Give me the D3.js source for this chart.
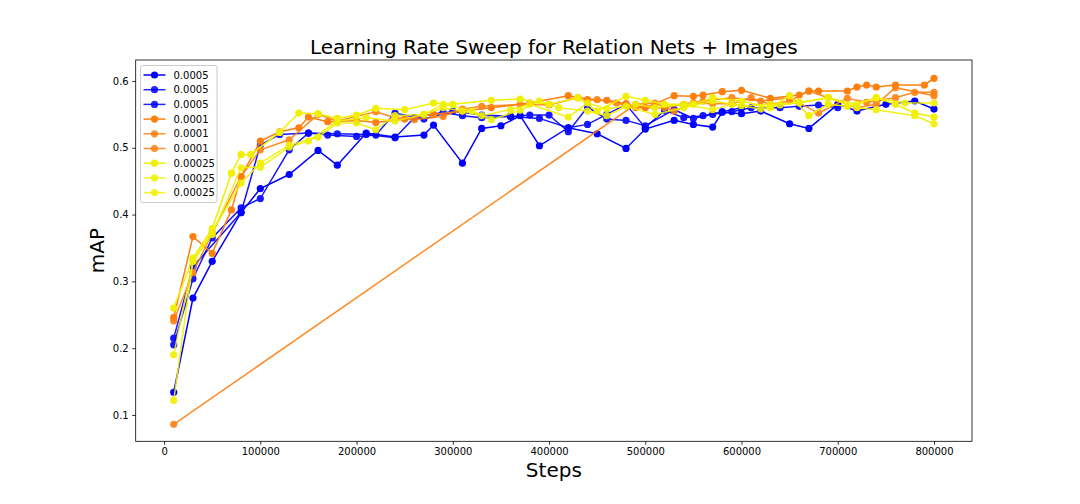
<!DOCTYPE html>
<html>
<head>
<meta charset="utf-8">
<script src="https://d3js.org/d3.v7.min.js"></script>
<style>
body{margin:0;background:#fff;}
svg{font-family:"DejaVu Sans",sans-serif;}
</style>
</head>
<body>
<script>
const width = 1080;
const height = 504;

// learning rates shown in the legend
const labels = ['0.0005','0.0005','0.0005','0.0001','0.0001','0.0001','0.00025','0.00025','0.00025'];
const colors = ['#0000ff','#0000ff','#0000ff','#ff7f0e','#ff7f0e','#ff7f0e','#f0f000','#f0f000','#f0f000'];

const xTicks = [0,100000,200000,300000,400000,500000,600000,700000,800000];
const yTicks = [0.1,0.2,0.3,0.4,0.5,0.6];

// steps in thousands, mAP per run
const stepsB1 = [10,30,50,80,100,130,160,180,210,240,270,280,310,330,350,370,390,420,450,480,500,530,550,570,580,600,620,650,670,700,720,750,780,800];
const mapB1   = [0.134,0.275,0.330,0.403,0.439,0.460,0.496,0.474,0.522,0.516,0.519,0.534,0.477,0.529,0.533,0.548,0.503,0.530,0.521,0.499,0.528,0.541,0.535,0.531,0.553,0.551,0.555,0.536,0.529,0.565,0.555,0.565,0.570,0.558];

const stepsB2 = [10,30,50,80,100,130,150,170,200,220,240,270,300,330,360,380,400,420,440,460,480,500,530,550,570,590,610,640,660,680,700];
const mapB2   = [0.205,0.304,0.365,0.410,0.424,0.497,0.522,0.519,0.517,0.519,0.552,0.543,0.555,0.549,0.547,0.549,0.549,0.524,0.561,0.543,0.541,0.533,0.557,0.544,0.550,0.554,0.560,0.560,0.562,0.564,0.560];

const stepsB3 = [10,30,80,100,120,150,180,210,240,260,290,310,330,360,390,420,440,460,480,500,520,540,560,580,600];
const mapB3   = [0.215,0.322,0.403,0.504,0.520,0.522,0.521,0.520,0.515,0.545,0.553,0.548,0.545,0.547,0.544,0.530,0.535,0.550,0.565,0.530,0.556,0.545,0.548,0.554,0.560];

const stepsO1 = [10,30,50,70,80,100,120,140,150,170,200,220,250,280,310,340,380,420,440,460,480,500,530,550,560,580,600,630,660,670,680,710,720,730,740,760,790,800];
const mapO1   = [0.246,0.367,0.342,0.407,0.457,0.510,0.524,0.530,0.546,0.539,0.541,0.538,0.543,0.550,0.555,0.560,0.567,0.578,0.572,0.571,0.566,0.560,0.578,0.577,0.579,0.584,0.586,0.574,0.579,0.585,0.585,0.585,0.591,0.594,0.591,0.594,0.594,0.604];

const stepsO2 = [10,30,50,80,100,130,160,180,220,240,260,290,310,330,370,400,430,450,470,490,520,540,560,590,620,650,680,710,730,760,780,800];
const mapO2   = [0.241,0.313,0.372,0.457,0.497,0.512,0.550,0.540,0.554,0.545,0.542,0.547,0.558,0.562,0.565,0.564,0.575,0.572,0.567,0.560,0.560,0.565,0.570,0.575,0.570,0.575,0.552,0.574,0.568,0.575,0.583,0.583];

const stepsO3 = [10,490,510,530,550,570,590,610,630,650,670,690,720,740,760,800];
const mapO3   = [0.086,0.565,0.567,0.555,0.567,0.566,0.566,0.575,0.565,0.570,0.585,0.575,0.560,0.565,0.590,0.578];

const stepsY1 = [10,30,50,70,80,90,120,140,160,180,200,220,250,280,300,340,370,400,430,450,480,500,520,550,570,600,630,650,670,690,710,740,760,780,800];
const mapY1   = [0.260,0.335,0.379,0.462,0.490,0.490,0.523,0.552,0.551,0.544,0.549,0.559,0.557,0.567,0.565,0.571,0.573,0.565,0.575,0.555,0.577,0.571,0.565,0.565,0.575,0.570,0.560,0.578,0.548,0.565,0.562,0.575,0.565,0.552,0.546];

const stepsY2 = [10,30,50,80,100,130,160,180,200,220,240,270,290,310,330,360,380,420,440,460,490,510,540,570,590,620,640,660,690,720,740,780,800];
const mapY2   = [0.190,0.330,0.375,0.447,0.477,0.504,0.516,0.537,0.537,0.527,0.548,0.550,0.560,0.555,0.548,0.557,0.565,0.546,0.567,0.558,0.565,0.560,0.565,0.557,0.565,0.558,0.564,0.568,0.575,0.560,0.557,0.548,0.536];

const stepsY3 = [10,30,50,80,100,130,150,180,210,240,270,290,320,340,370,390,410,440,460,480,510,540,570,600,630,660,690,720,740,770,800];
const mapY3   = [0.122,0.330,0.370,0.470,0.471,0.501,0.510,0.540,0.545,0.540,0.550,0.565,0.555,0.542,0.556,0.570,0.560,0.555,0.548,0.562,0.550,0.560,0.570,0.563,0.565,0.567,0.575,0.565,0.575,0.567,0.567];

const runSteps = [stepsB1,stepsB2,stepsB3,stepsO1,stepsO2,stepsO3,stepsY1,stepsY2,stepsY3];
const runMaps  = [mapB1,mapB2,mapB3,mapO1,mapO2,mapO3,mapY1,mapY2,mapY3];

const runs = runSteps.map((s,i)=>s.map((st,j)=>({step:st*1000, map:runMaps[i][j]})));

const pLeft = 135.7, pRight = 972, pTop = 60, pBottom = 441.3;

const x = d3.scaleLinear().domain([-29500, 839500]).range([pLeft, pRight]);
const y = d3.scaleLinear().domain([0.0606, 0.6314]).range([pBottom, pTop]);

const svg = d3.select('body').append('svg')
    .attr('width', width)
    .attr('height', height);

const line = d3.line()
    .x(d=>x(d.step))
    .y(d=>y(d.map));

const plot = svg.append('g');

runs.forEach((run,i)=>{
    const g = plot.append('g').attr('opacity', i%3===0 ? 1 : 0.9);
    g.append('path')
        .datum(run)
        .attr('d', line)
        .attr('fill','none')
        .attr('stroke', colors[i])
        .attr('stroke-width', 1.5);
    g.selectAll('circle')
        .data(run)
        .enter()
        .append('circle')
            .attr('cx', d=>x(d.step))
            .attr('cy', d=>y(d.map))
            .attr('r', 3.6)
            .attr('fill', colors[i]);
});

// axes
const xAxis = svg.append('g')
    .attr('transform', `translate(0,${pBottom})`)
    .call(d3.axisBottom(x).tickValues(xTicks).tickFormat(d3.format('d')).tickSize(3.5).tickPadding(3.5));
const yAxis = svg.append('g')
    .attr('transform', `translate(${pLeft},0)`)
    .call(d3.axisLeft(y).tickValues(yTicks).tickFormat(d3.format('.1f')).tickSize(3.5).tickPadding(3.5));

[xAxis, yAxis].forEach(a=>{
    a.select('.domain').remove();
    a.selectAll('text').attr('font-size', 10).attr('fill','#000').attr('font-family','"DejaVu Sans",sans-serif');
    a.selectAll('line').attr('stroke','#000').attr('stroke-width',0.8);
});

// frame
svg.append('rect')
    .attr('x', pLeft).attr('y', pTop)
    .attr('width', pRight-pLeft).attr('height', pBottom-pTop)
    .attr('fill','none').attr('stroke','#000').attr('stroke-width',0.8);

// titles
svg.append('text')
    .attr('x', (pLeft+pRight)/2).attr('y', 54)
    .attr('text-anchor','middle')
    .attr('font-size', 20)
    .text('Learning Rate Sweep for Relation Nets + Images');

svg.append('text')
    .attr('x', (pLeft+pRight)/2).attr('y', 477)
    .attr('text-anchor','middle')
    .attr('font-size', 20)
    .text('Steps');

svg.append('text')
    .attr('transform', `translate(104,${(pTop+pBottom)/2}) rotate(-90)`)
    .attr('text-anchor','middle')
    .attr('font-size', 20)
    .text('mAP');

// legend
const legend = svg.append('g').attr('transform','translate(140.5,65.5)');
legend.append('rect')
    .attr('width', 76.5).attr('height', 137)
    .attr('rx', 2)
    .attr('fill','#fff').attr('fill-opacity',0.8)
    .attr('stroke','#ccc').attr('stroke-width',1);

const rows = legend.selectAll('g.row')
    .data(labels)
    .enter()
    .append('g')
        .attr('class','row')
        .attr('transform',(d,i)=>`translate(0,${9.5 + i*14.7})`);
rows.append('line')
    .attr('x1', 3).attr('x2', 25)
    .attr('stroke',(d,i)=>colors[i])
    .attr('stroke-opacity',(d,i)=>i%3===0 ? 1 : 0.85)
    .attr('stroke-width',1.5);
rows.append('circle')
    .attr('cx', 14).attr('r', 3.6)
    .attr('fill',(d,i)=>colors[i])
    .attr('fill-opacity',(d,i)=>i%3===0 ? 1 : 0.85);
rows.append('text')
    .attr('x', 33).attr('y', 3.6)
    .attr('font-size', 10)
    .text(d=>d);
</script>
</body>
</html>
